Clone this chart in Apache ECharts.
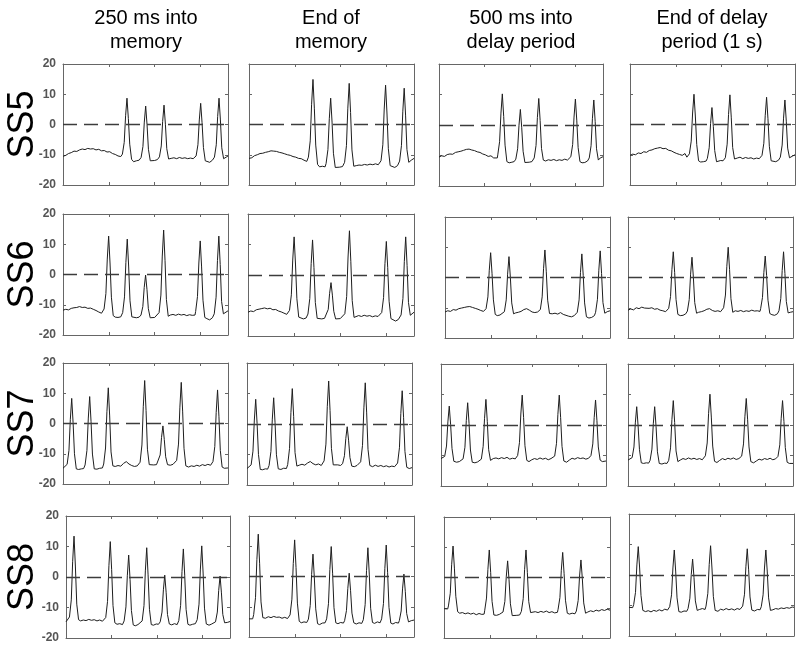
<!DOCTYPE html>
<html>
<head>
<meta charset="utf-8">
<title>SS5 - SS8 traces</title>
<script src="https://cdn.jsdelivr.net/npm/echarts@6/dist/echarts.min.js"></script>
<style>
    html, body { margin: 0; padding: 0; background: #fff; }
    #chart { width: 800px; height: 649px; }
</style>
</head>
<body>
<div id="chart"></div>
<script>
// column titles / row labels
const colTitles = ['250 ms into\nmemory', 'End of\nmemory', '500 ms into\ndelay period', 'End of delay\nperiod (1 s)']
const rowLabels = ['SS5', 'SS6', 'SS7', 'SS8']
// y axis range and tick step (labels -20 .. 20)
const yRange = [-20, 20]
const yStep = 10

// traces, [time, value]
const ss5_250 = [[0,-10.5],[3,-10.2],[6,-9.6],[9,-9.3],[12,-8.8],[15,-8.9],[18,-8.4],[21,-8.1],[24,-8.3],[27,-7.9],[30,-8.1],[33,-8.0],[36,-8.4],[39,-8.2],[42,-8.7],[45,-8.6],[48,-9.1],[51,-9.0],[54,-9.6],[57,-9.9],[60,-10.4],[63,-10.6],
    [64.8,-9.8],[66.8,-5.9],[68.3,2.9],[69.8,8.7],[71.3,2.0],[72.8,-6.5],[74.8,-11.5],[77,-12.3],[80,-12.0],[83,-11.8],
    [85.2,-10.9],[87.2,-7.3],[88.7,0.8],[90.2,6.1],[91.7,-0.1],[93.2,-8.2],[95.2,-12.0],[97,-12.4],[100,-11.9],[103,-11.6],
    [105.2,-10.7],[107.2,-7.1],[108.7,1.0],[110.2,6.4],[111.7,0.1],[113.2,-8.0],[115.2,-11.4],[118,-11.2],[121,-11.0],[124,-11.3],[127,-10.9],[130,-11.2],[133,-11.0],[136,-11.3],[139,-11.1],[142,-11.3],
    [145.2,-10.4],[147.2,-6.7],[148.7,1.5],[150.2,7.0],[151.7,0.6],[153.2,-7.6],[155.2,-12.0],[157,-12.3],[160,-12.5],[163,-11.8],
    [165.2,-10.8],[167.2,-6.7],[168.7,2.6],[170.2,8.7],[171.7,1.5],[173.2,-7.7],[175.2,-11.3],[178,-10.8],[180,-10.4]]
const ss5_endMem = [[0,-11.2],[3,-11.0],[6,-10.3],[9,-10.0],[12,-9.6],[15,-9.5],[18,-9.2],[21,-9.0],[24,-8.7],[27,-8.8],[30,-8.9],[33,-9.2],[36,-9.4],[39,-9.7],[42,-10.0],[45,-10.2],[48,-10.6],[51,-10.8],[54,-11.2],[57,-11.3],[60,-11.8],[63,-12.2],
    [64.8,-10.8],[66.8,-5.4],[68.3,6.7],[69.8,14.9],[71.3,5.4],[72.8,-6.8],[74.8,-13.2],[77,-14.0],[80,-13.8],[83,-14.0],
    [84.1,-12.9],[86.1,-8.3],[87.6,1.9],[89.1,8.7],[90.6,0.8],[92.1,-9.5],[94.1,-14.2],[96,-14.3],[99,-14.1],[102,-13.9],
    [104.3,-12.5],[106.3,-7.0],[107.8,5.4],[109.3,13.6],[110.8,4.0],[112.3,-8.4],[114.3,-13.8],[117,-13.6],[120,-13.4],[123,-13.5],[126,-13.2],[129,-13.4],[132,-13.1],[135,-13.3],[138,-13.0],[141,-13.3],[143,-13.3],
    [144,-12.0],[146,-6.7],[147.5,5.1],[149,13.0],[150.5,3.8],[152,-8.0],[154,-13.6],[156,-14.0],[159,-14.2],[162,-13.6],[163.5,-13.4],
    [164.3,-12.1],[166.3,-7.0],[167.8,4.4],[169.3,12.0],[170.8,3.1],[172.3,-8.3],[174.3,-12.5],[177,-11.8],[180,-11.2]]
const ss5_500 = [[0,-10.5],[3,-10.1],[6,-10.3],[9,-9.7],[12,-9.5],[15,-9.6],[18,-9.0],[21,-8.8],[24,-8.6],[27,-8.3],[30,-8.0],[33,-7.9],[36,-8.2],[39,-8.4],[42,-8.8],[45,-9.0],[48,-9.5],[51,-9.8],[54,-10.3],[57,-10.1],[60,-10.8],[62,-11.0],[64,-10.8],
    [64.5,-9.8],[66.5,-5.5],[68,3.9],[69.5,10.2],[71,2.8],[72.5,-6.6],[74.5,-12.0],[77,-12.4],[80,-12.2],[82.5,-12.0],
    [84.3,-11.2],[86.3,-7.8],[87.8,-0.1],[89.3,5.1],[90.8,-0.9],[92.3,-8.6],[94.3,-12.3],[96,-12.5],[99,-12.2],[102,-12.0],
    [104.5,-10.8],[106.5,-6.7],[108,2.5],[109.5,8.7],[111,1.5],[112.5,-7.7],[114.5,-11.5],[117,-11.8],[120,-11.4],[123,-11.6],[126,-11.3],[129,-11.7],[132,-11.4],[135,-11.6],[138,-11.2],[141,-11.5],[143,-11.4],
    [144.7,-10.4],[146.7,-6.4],[148.2,2.6],[149.7,8.5],[151.2,1.6],[152.7,-7.4],[154.7,-12.0],[157,-12.4],[160,-12.3],[163,-11.8],
    [164.9,-10.8],[166.9,-6.8],[168.4,2.2],[169.9,8.2],[171.4,1.2],[172.9,-7.8],[174.9,-11.5],[177,-10.8],[180,-10.4]]
const ss5_endDelay = [[0,-10.2],[3,-9.8],[6,-10.0],[9,-9.4],[12,-9.6],[15,-9.0],[18,-9.2],[21,-8.6],[24,-8.4],[27,-8.0],[30,-7.8],[33,-7.6],[36,-8.0],[39,-7.9],[42,-8.5],[45,-8.7],[48,-9.2],[51,-9.6],[54,-9.9],[57,-10.2],[60,-9.6],[62,-10.8],[64,-10.7],
    [64.8,-9.7],[66.8,-5.5],[68.3,3.8],[69.8,10.0],[71.3,2.8],[72.8,-6.6],[74.8,-12.0],[77,-12.4],[80,-12.3],[83,-12.1],
    [84.4,-11.2],[86.4,-7.7],[87.9,0.3],[89.4,5.6],[90.9,-0.6],[92.4,-8.6],[94.4,-12.3],[96,-12.4],[99,-11.9],[101.5,-12.0],
    [104,-11.0],[106,-6.5],[107.5,3.3],[109,9.8],[110.5,2.2],[112,-7.6],[114,-11.4],[117,-11.1],[120,-10.8],[123,-11.3],[126,-10.9],[129,-11.2],[132,-11.0],[135,-11.4],[138,-11.1],[141,-11.3],[143,-11.2],
    [144,-10.2],[146,-6.2],[147.5,2.9],[149,9.0],[150.5,1.9],[152,-7.2],[154,-12.0],[156,-12.4],[159,-12.3],[162,-11.8],
    [164,-10.8],[166,-6.8],[167.5,2.1],[169,8.1],[170.5,1.1],[172,-7.8],[174,-11.0],[177,-10.5],[180,-10.0]]

const ss6_250 = [[0,-11.8],[3,-11.5],[6,-11.7],[9,-11.2],[12,-11.0],[15,-10.9],[18,-10.6],[21,-10.9],[24,-10.8],[27,-11.2],[30,-11.1],[33,-11.5],[36,-11.9],[39,-12.4],[42,-12.8],
    [44.8,-11.4],[46.8,-6.3],[48.3,5.1],[49.8,12.7],[51.3,3.8],[52.8,-7.5],[54.8,-13.6],[57,-14.1],[60,-14.2],[63,-14.0],
    [65.1,-12.6],[67.1,-7.4],[68.6,4.0],[70.1,11.7],[71.6,2.8],[73.1,-8.7],[75.1,-14.0],[77,-14.4],[80,-14.3],[83,-14.1],
    [85.1,-13.4],[87.1,-10.6],[88.6,-4.3],[90.1,-0.2],[91.6,-4.9],[93.1,-11.3],[95.1,-14.3],[97,-14.6],[100,-14.2],[102,-14.0],
    [104.8,-12.6],[106.8,-6.8],[108.3,6.1],[109.8,14.7],[111.3,4.7],[112.8,-8.3],[114.8,-13.8],[117,-13.4],[120,-13.2],[123,-13.5],[126,-13.1],[129,-13.4],[132,-13.2],[135,-13.6],[138,-13.3],[141,-13.5],[144,-13.4],
    [144.7,-12.2],[146.7,-7.3],[148.2,3.8],[149.7,11.1],[151.2,2.5],[152.7,-8.5],[154.7,-14.2],[157,-14.6],[160,-15.0],[163,-14.3],
    [165,-13.0],[167,-7.5],[168.5,4.6],[170,12.7],[171.5,3.3],[173,-8.9],[175,-13.0],[177,-12.4],[180,-12.0]]
const ss6_endMem = [[0,-12.2],[3,-11.8],[6,-12.0],[9,-11.4],[12,-11.2],[15,-11.0],[18,-10.8],[21,-11.1],[24,-10.9],[27,-11.4],[30,-11.3],[33,-11.8],[36,-12.1],[39,-12.5],[42,-12.9],
    [45,-11.6],[47,-6.5],[48.5,4.9],[50,12.5],[51.5,3.6],[53,-7.8],[55,-13.8],[57,-14.3],[60,-14.4],[63,-14.1],
    [65,-12.8],[67,-7.7],[68.5,3.8],[70,11.5],[71.5,2.5],[73,-9.0],[75,-14.2],[77,-14.6],[80,-14.4],[83,-14.2],
    [85,-13.6],[87,-11.3],[88.5,-6.0],[90,-2.5],[91.5,-6.6],[93,-11.9],[95,-14.4],[97,-14.8],[100,-14.3],[102,-14.1],
    [105,-12.7],[107,-7.0],[108.5,5.9],[110,14.5],[111.5,4.5],[113,-8.4],[115,-13.9],[117,-13.5],[120,-13.3],[123,-13.6],[126,-13.2],[129,-13.5],[132,-13.3],[135,-13.7],[138,-13.4],[141,-13.6],[143,-13.5],
    [145,-12.3],[147,-7.4],[148.5,3.7],[150,11.0],[151.5,2.4],[153,-8.6],[155,-14.3],[157,-14.7],[160,-15.1],[163,-14.6],[164.5,-14.4],
    [166,-13.1],[168,-7.7],[169.5,4.4],[171,12.5],[172.5,3.1],[174,-9.0],[176,-13.2],[178,-12.6],[180,-12.2]]
const ss6_500 = [[0,-11.4],[3,-11.0],[6,-11.2],[9,-10.6],[12,-10.8],[15,-10.3],[18,-10.1],[21,-9.9],[24,-9.7],[27,-9.6],[30,-9.9],[33,-10.2],[36,-10.5],[39,-10.9],[42,-11.2],
    [44.8,-10.3],[46.8,-6.4],[48.3,2.4],[49.8,8.2],[51.3,1.4],[52.8,-7.4],[54.8,-12.2],[57,-12.6],[60,-12.4],[62,-12.2],
    [64.8,-11.3],[66.8,-7.4],[68.3,1.1],[69.8,6.9],[71.3,0.1],[72.8,-8.4],[74.8,-12.0],[77,-11.7],[80,-11.5],[83,-11.2],[86,-10.6],[89,-10.3],[92,-10.8],[95,-11.4],[98,-11.6],[101,-11.4],[103,-11.6],
    [104,-10.6],[106,-6.4],[107.5,2.9],[109,9.1],[110.5,1.9],[112,-7.5],[114,-11.9],[117,-12.0],[120,-11.8],[123,-12.1],[126,-11.6],[129,-12.2],[132,-12.5],[135,-12.8],[138,-13.0],[141,-12.6],[143,-12.5],
    [144.3,-11.5],[146.3,-7.4],[147.8,1.7],[149.3,7.8],[150.8,0.7],[152.3,-8.4],[154.3,-13.0],[157,-13.4],[160,-13.2],[163,-12.6],
    [164.3,-11.5],[166.3,-7.2],[167.8,2.4],[169.3,8.8],[170.8,1.3],[172.3,-8.3],[174.3,-11.8],[177,-11.3],[180,-11.0]]
const ss6_endDelay = [[0,-10.8],[3,-10.4],[6,-10.7],[9,-10.0],[12,-10.3],[15,-9.8],[18,-10.1],[20,-9.7],[23,-10.2],[26,-10.0],[29,-10.5],[32,-10.3],[35,-10.8],[38,-11.0],[41,-11.3],[43,-11.2],
    [44.4,-10.2],[46.4,-6.3],[47.9,2.6],[49.4,8.5],[50.9,1.6],[52.4,-7.3],[54.4,-12.2],[57,-12.6],[60,-12.5],[63,-12.0],
    [64.8,-11.1],[66.8,-7.3],[68.3,1.1],[69.8,6.7],[71.3,0.2],[72.8,-8.3],[74.8,-11.8],[77,-11.5],[80,-11.3],[83,-11.0],[86,-10.5],[89,-10.3],[92,-10.9],[95,-11.2],[98,-11.0],[101,-11.3],[103,-11.1],
    [104.3,-10.0],[106.3,-5.8],[107.8,3.7],[109.3,10.0],[110.8,2.6],[112.3,-7.0],[114.3,-11.5],[117,-11.0],[120,-11.2],[123,-10.9],[126,-11.3],[129,-11.0],[132,-11.2],[135,-10.8],[138,-11.1],[141,-11.0],[144,-11.2],
    [144.7,-10.3],[146.7,-6.6],[148.2,1.6],[149.7,7.1],[151.2,0.7],[152.7,-7.5],[154.7,-11.9],[157,-12.3],[160,-12.5],[163,-12.0],
    [164.7,-11.0],[166.7,-6.9],[168.2,2.3],[169.7,8.5],[171.2,1.3],[172.7,-7.9],[174.7,-11.7],[177,-11.5],[180,-11.3]]

const ss7_250 = [[0,-14.8],[2,-14.9],
    [4.5,-13.5],[6.5,-8.9],[8,1.4],[9.5,8.3],[11,0.3],[12.5,-10.0],[14.5,-15.0],[17,-15.2],[20,-15.0],[22.5,-14.9],
    [24.1,-13.7],[26.1,-8.9],[27.6,1.8],[29.1,8.9],[30.6,0.6],[32.1,-10.1],[34.1,-15.0],[37,-15.1],[40,-14.8],[43,-14.7],
    [44.4,-13.4],[46.4,-8.1],[47.9,3.9],[49.4,11.8],[50.9,2.5],[52.4,-9.4],[54.4,-14.0],[57,-14.2],[60,-13.9],[63,-14.1],[66,-13.2],[69,-12.6],[72,-13.4],[75,-13.9],[78,-14.2],[81,-14.0],[83,-14.2],
    [84.1,-12.8],[86.1,-7.1],[87.6,5.7],[89.1,14.2],[90.6,4.3],[92.1,-8.5],[94.1,-13.6],[96,-14.0],[99,-13.7],[102,-13.6],
    [104,-13.0],[106,-10.4],[107.5,-4.6],[109,-0.8],[110.5,-5.3],[112,-11.0],[114,-13.6],[117,-13.8],[120,-13.5],[122,-13.6],
    [124,-12.2],[126,-6.8],[127.5,5.4],[129,13.6],[130.5,4.1],[132,-8.2],[134,-14.0],[137,-14.4],[140,-14.0],[143,-14.2],[146,-13.8],[149,-14.1],[152,-13.6],[155,-13.9],[158,-13.5],[161,-13.8],
    [163.6,-12.6],[165.6,-7.6],[167.1,3.6],[168.6,11.1],[170.1,2.4],[171.6,-8.9],[173.6,-14.4],[176,-14.8],[178,-14.9],[180,-14.7]]
const ss7_endMem = [[0,-14.6],[2,-14.5],
    [4.5,-13.4],[6.5,-8.9],[8,1.3],[9.5,8.1],[11,0.2],[12.5,-10.0],[14.5,-14.9],[17,-15.0],[20,-14.7],[22.5,-14.8],
    [24.1,-13.6],[26.1,-9.0],[27.6,1.6],[29.1,8.6],[30.6,0.4],[32.1,-10.1],[34.1,-14.7],[37,-14.9],[40,-14.5],[43,-14.6],
    [44.4,-13.3],[46.4,-8.0],[47.9,3.7],[49.4,11.6],[50.9,2.4],[52.4,-9.4],[54.4,-13.8],[57,-13.5],[60,-13.2],[63,-13.5],[66,-12.8],[69,-12.3],[72,-13.0],[75,-13.4],[78,-13.1],[81,-13.6],[83,-13.5],
    [84.1,-12.1],[86.1,-6.6],[87.6,5.8],[89.1,14.1],[90.6,4.4],[92.1,-8.0],[94.1,-13.4],[96,-13.8],[99,-13.4],[102,-13.6],
    [104.3,-13.0],[106.3,-10.4],[107.8,-4.7],[109.3,-0.9],[110.8,-5.3],[112.3,-11.0],[114.3,-13.8],[117,-14.0],[120,-13.6],[122,-13.8],
    [124,-12.4],[126,-7.0],[127.5,5.3],[129,13.5],[130.5,3.9],[132,-8.3],[134,-13.6],[137,-14.0],[140,-13.5],[143,-13.9],[146,-13.6],[149,-14.0],[152,-13.7],[155,-14.1],[158,-13.8],[161,-14.0],
    [164.3,-12.8],[166.3,-7.8],[167.8,3.4],[169.3,10.9],[170.8,2.2],[172.3,-9.0],[174.3,-14.2],[177,-14.6],[180,-14.3]]
const ss7_500 = [[0,-11.0],[2,-11.2],
    [4,-10.3],[6,-6.9],[7.5,1.0],[9,6.2],[10.5,0.1],[12,-7.7],[14,-11.9],[17,-12.2],[20,-12.0],[22,-12.1],
    [24.1,-11.1],[26.1,-7.3],[27.6,1.5],[29.1,7.3],[30.6,0.5],[32.1,-8.2],[34.1,-12.2],[37,-12.4],[40,-12.1],[42,-12.2],
    [44,-11.2],[46,-7.0],[47.5,2.2],[49,8.4],[50.5,1.2],[52,-8.1],[54,-11.6],[57,-11.0],[60,-10.8],[63,-11.1],[66,-10.7],[69,-11.0],[72,-10.6],[75,-11.2],[78,-10.9],[81,-11.1],
    [83.6,-10.0],[85.6,-5.8],[87.1,3.6],[88.6,9.8],[90.1,2.5],[91.6,-6.8],[93.6,-11.6],[96,-12.0],[99,-11.4],[102,-11.0],[105,-11.3],[108,-10.8],[111,-11.2],[114,-10.9],[117,-11.4],[120,-11.0],[122,-11.2],
    [124,-10.2],[126,-6.0],[127.5,3.5],[129,9.8],[130.5,2.4],[132,-7.0],[134,-11.8],[137,-12.2],[140,-11.5],[143,-10.9],[146,-11.2],[149,-10.7],[152,-11.0],[155,-10.8],[158,-11.2],[161,-10.9],
    [163.6,-10.0],[165.6,-6.2],[167.1,2.4],[168.6,8.2],[170.1,1.4],[171.6,-7.2],[173.6,-11.5],[176,-12.0],[178,-12.1],[180,-11.8]]
const ss7_endDelay = [[0,-11.5],[2,-11.6],
    [4.5,-10.7],[6.5,-7.2],[8,0.7],[9.5,6.0],[11,-0.2],[12.5,-8.1],[14.5,-12.4],[17,-12.6],[20,-12.4],[22.5,-12.5],
    [24.1,-11.6],[26.1,-7.9],[27.6,0.4],[29.1,6.0],[30.6,-0.5],[32.1,-8.8],[34.1,-12.6],[37,-12.8],[40,-12.5],[42.5,-12.6],
    [44.4,-11.6],[46.4,-7.5],[47.9,1.8],[49.4,8.0],[50.9,0.8],[52.4,-8.5],[54.4,-12.0],[57,-11.5],[60,-11.0],[63,-11.3],[66,-10.8],[69,-11.2],[72,-10.9],[75,-11.3],[78,-11.0],[81,-11.4],[83,-11.2],
    [84.4,-10.1],[86.4,-5.9],[87.9,3.7],[89.4,10.1],[90.9,2.6],[92.4,-6.9],[94.4,-11.9],[97,-12.3],[100,-11.6],[103,-11.0],[106,-11.4],[109,-10.9],[112,-11.2],[115,-10.8],[118,-11.3],[121,-11.0],[123,-11.2],
    [124,-10.2],[126,-6.2],[127.5,2.7],[129,8.7],[130.5,1.7],[132,-7.2],[134,-12.0],[137,-12.4],[140,-11.8],[143,-11.2],[146,-11.5],[149,-11.0],[152,-11.3],[155,-10.9],[158,-11.4],[161,-11.1],
    [163.6,-10.3],[165.6,-6.5],[167.1,2.2],[168.6,8.0],[170.1,1.2],[171.6,-7.4],[173.6,-12.2],[176,-12.6],[178,-12.8],[180,-12.6]]

const ss8_250 = [[0,-14.7],[2,-14.5],
    [3.8,-13.1],[5.8,-7.5],[7.3,5.0],[8.8,13.4],[10.3,3.6],[11.8,-8.9],[13.8,-14.0],[16,-14.4],[19,-14.1],[22,-14.3],[25,-13.9],[28,-14.2],[31,-14.0],[34,-14.4],[37,-14.1],[40,-14.5],[42,-14.6],
    [43.6,-13.3],[45.6,-8.0],[47.1,3.7],[48.6,11.6],[50.1,2.4],[51.6,-9.4],[53.6,-15.0],[56,-15.5],[59,-15.3],[62,-15.6],
    [63.8,-14.4],[65.8,-9.8],[67.3,0.4],[68.8,7.2],[70.3,-0.8],[71.8,-11.0],[73.8,-15.7],[76,-16.0],[79,-15.6],[81,-15.7],
    [83.6,-14.4],[85.6,-9.4],[87.1,2.0],[88.6,9.6],[90.1,0.7],[91.6,-10.6],[93.6,-15.6],[96,-15.8],[99,-15.4],[101.5,-15.5],
    [103.4,-14.7],[105.4,-11.5],[106.9,-4.2],[108.4,0.6],[109.9,-5.0],[111.4,-12.3],[113.4,-15.4],[116,-15.7],[119,-15.3],[122,-15.6],
    [123.8,-14.3],[125.8,-9.3],[127.3,1.8],[128.8,9.2],[130.3,0.6],[131.8,-10.6],[133.8,-15.5],[136,-15.8],[139,-15.5],[142,-15.3],
    [144,-14.0],[146,-8.9],[147.5,2.6],[149,10.2],[150.5,1.3],[152,-10.2],[154,-15.4],[157,-15.8],[160,-15.4],[162,-15.5],
    [164.1,-14.7],[166.1,-11.5],[167.6,-4.4],[169.1,0.3],[170.6,-5.2],[172.1,-12.3],[174.1,-15.0],[177,-14.9],[180,-14.6]]
const ss8_endMem = [[0,-14.0],[2,-13.8],[4,-14.0],
    [5.1,-12.6],[7.1,-7.0],[8.6,5.6],[10.1,14.0],[11.6,4.2],[13.1,-8.4],[15.1,-13.6],[18,-13.8],[21,-13.3],[24,-13.6],[27,-13.2],[30,-13.5],[33,-13.4],[36,-13.8],[39,-13.5],[42,-13.9],[44,-14.0],
    [44.8,-12.7],[46.8,-7.5],[48.3,4.3],[49.8,12.1],[51.3,3.0],[52.8,-8.8],[54.8,-14.8],[57,-15.3],[60,-15.0],[63,-15.2],
    [64.8,-14.1],[66.8,-9.6],[68.3,0.6],[69.8,7.4],[71.3,-0.5],[72.8,-10.7],[74.8,-15.6],[77,-15.9],[80,-15.4],[83,-15.3],
    [84.7,-14.0],[86.7,-9.0],[88.2,2.3],[89.7,9.9],[91.2,1.1],[92.7,-10.3],[94.7,-15.3],[97,-15.6],[100,-15.2],[103,-15.4],
    [104.3,-14.6],[106.3,-11.3],[107.8,-3.9],[109.3,1.1],[110.8,-4.7],[112.3,-12.1],[114.3,-15.3],[117,-15.7],[120,-15.3],[123,-15.5],
    [124.7,-14.3],[126.7,-9.3],[128.2,2.0],[129.7,9.5],[131.2,0.8],[132.7,-10.5],[134.7,-15.2],[137,-15.5],[140,-15.0],[143,-15.3],
    [144.7,-14.0],[146.7,-8.9],[148.2,2.7],[149.7,10.4],[151.2,1.4],[152.7,-10.2],[154.7,-15.4],[157,-15.7],[160,-15.2],[163,-15.4],
    [164,-14.6],[166,-11.4],[167.5,-4.1],[169,0.8],[170.5,-4.9],[172,-12.2],[174,-15.0],[177,-14.6],[180,-14.4]]
const ss8_500 = [[0,-10.3],[2,-10.1],[4,-10.4],
    [4.8,-9.4],[6.8,-5.2],[8.3,4.2],[9.8,10.4],[11.3,3.1],[12.8,-6.2],[14.8,-11.3],[17,-11.8],[20,-11.6],[23,-12.0],[26,-11.7],[29,-12.1],[32,-11.8],[35,-12.3],[38,-11.9],[41,-12.2],[43.5,-12.1],
    [44.1,-11.0],[46.1,-6.8],[47.6,2.7],[49.1,9.1],[50.6,1.7],[52.1,-7.9],[54.1,-12.4],[57,-12.5],[60,-12.2],[62,-12.3],
    [64,-11.4],[66,-7.9],[67.5,0.2],[69,5.5],[70.5,-0.7],[72,-8.7],[74,-12.6],[76,-12.9],[79,-12.5],[82,-12.4],[83.5,-12.3],
    [83.9,-11.2],[85.9,-7.0],[87.4,2.7],[88.9,9.1],[90.4,1.6],[91.9,-8.0],[93.9,-11.6],[96,-11.8],[99,-11.3],[102,-11.6],[105,-11.2],[108,-11.5],[111,-11.1],[114,-11.6],[117,-11.3],[120,-11.7],[123,-11.5],
    [123.7,-10.5],[125.7,-6.6],[127.2,2.4],[128.7,8.3],[130.2,1.4],[131.7,-7.5],[133.7,-11.8],[136,-12.1],[139,-11.8],[142,-12.0],[143.3,-12.0],
    [143.5,-11.1],[145.5,-7.6],[147,0.5],[148.5,5.8],[150,-0.4],[151.5,-8.4],[153.5,-11.8],[156,-11.4],[159,-11.0],[162,-11.3],[165,-10.8],[168,-11.1],[171,-10.6],[174,-10.9],[177,-10.5],[180,-10.8]]
const ss8_endDelay = [[0,-10.6],[2,-10.4],[4,-10.7],
    [5.1,-9.7],[7.1,-5.7],[8.6,3.3],[10.1,9.3],[11.6,2.3],[13.1,-6.7],[15.1,-11.6],[18,-12.0],[21,-11.7],[24,-12.1],[27,-11.6],[30,-11.9],[33,-11.4],[36,-11.8],[39,-11.2],[42,-11.5],[44,-11.4],
    [44.4,-10.4],[46.4,-6.5],[47.9,2.3],[49.4,8.2],[50.9,1.3],[52.4,-7.5],[54.4,-12.0],[57,-12.2],[60,-11.8],[63,-11.9],
    [64.4,-11.0],[66.4,-7.6],[67.9,0.1],[69.4,5.2],[70.9,-0.8],[72.4,-8.5],[74.4,-11.6],[77,-11.3],[80,-11.0],[83,-11.3],
    [84,-10.2],[86,-6.0],[87.5,3.4],[89,9.6],[90.5,2.3],[92,-7.0],[94,-11.6],[97,-11.9],[100,-11.2],[103,-11.5],[106,-11.0],[109,-11.4],[112,-11.1],[115,-11.5],[118,-11.0],[121,-11.3],[123,-11.2],
    [124,-10.2],[126,-6.3],[127.5,2.7],[129,8.6],[130.5,1.7],[132,-7.2],[134,-11.5],[137,-11.8],[140,-11.3],[143,-11.4],
    [144.3,-10.4],[146.3,-6.5],[147.8,2.3],[149.3,8.2],[150.8,1.3],[152.3,-7.5],[154.3,-11.6],[157,-11.4],[160,-11.0],[163,-11.2],[166,-10.8],[169,-11.0],[172,-10.7],[175,-10.9],[178,-10.5],[180,-10.6]]

const traces = [
    [ss5_250, ss5_endMem, ss5_500, ss5_endDelay],
    [ss6_250, ss6_endMem, ss6_500, ss6_endDelay],
    [ss7_250, ss7_endMem, ss7_500, ss7_endDelay],
    [ss8_250, ss8_endMem, ss8_500, ss8_endDelay]
]

// panel boxes in px [left, top, width, height]
const boxes = [
    [[63, 64, 165, 121], [249, 64, 165, 121], [439, 64, 164, 122], [630, 64, 165, 121]],
    [[63, 214, 165, 121], [248, 214, 166, 122], [445, 217, 165, 121], [628, 217, 165, 121]],
    [[63, 363, 165, 121], [247, 363, 165, 122], [441, 364, 165, 122], [628, 364, 165, 122]],
    [[66, 516, 164, 122], [249, 516, 165, 121], [444, 517, 166, 121], [629, 514, 165, 122]]
]
const colCenters = [146, 331, 521, 712]

const font = 'Liberation Sans, Arial, sans-serif'
const boxColor = '#666'

const chart = echarts.init(document.getElementById('chart'), null, {renderer: 'canvas'})

const grid = [], xAxis = [], yAxis = [], series = []
boxes.forEach((row, r) => {
    row.forEach((b, c) => {
        const g = grid.length
        grid.push({left: b[0], top: b[1], width: b[2], height: b[3], show: false})
        const tick = {show: true, inside: true, length: 3, lineStyle: {color: boxColor}}
        const line = {show: true, onZero: false, lineStyle: {color: boxColor, width: 1}}
        // bottom + top (mirror)
        ;['bottom', 'top'].forEach(pos => {
            xAxis.push({
                gridIndex: g, type: 'value', position: pos, min: 0, max: 180, interval: 50,
                axisLine: line, axisTick: tick, axisLabel: {show: false}, splitLine: {show: false}
            })
        })
        // left + right (mirror)
        ;['left', 'right'].forEach(pos => {
            yAxis.push({
                gridIndex: g, type: 'value', position: pos, min: yRange[0], max: yRange[1], interval: yStep,
                axisLine: line, axisTick: tick, splitLine: {show: false},
                axisLabel: {
                    show: c === 0 && pos === 'left', color: '#555', fontSize: 12, fontWeight: 'bold',
                    fontFamily: font, margin: 7
                }
            })
        })
        series.push({
            type: 'line',
            xAxisIndex: g * 2,
            yAxisIndex: g * 2,
            data: traces[r][c],
            showSymbol: false,
            silent: true,
            lineStyle: {color: '#1e1e1e', width: 1},
            markLine: {
                silent: true,
                symbol: 'none',
                label: {show: false},
                lineStyle: {color: '#3c3c3c', type: [14, 7], width: 1.4},
                data: [{yAxis: 0}]
            }
        })
    })
})

const graphic = []
colTitles.forEach((t, i) => {
    graphic.push({
        type: 'text', x: colCenters[i], y: 6,
        style: {text: t, fontSize: 20, fontFamily: font, fill: '#000', align: 'center', verticalAlign: 'top', lineHeight: 24}
    })
})
rowLabels.forEach((t, i) => {
    const b = boxes[i][0]
    graphic.push({
        type: 'text', x: 23, y: b[1] + b[3] / 2, rotation: Math.PI / 2,
        style: {text: t, fontSize: 36, fontFamily: font, fill: '#000', align: 'center', verticalAlign: 'middle'}
    })
})

chart.setOption({
    animation: false,
    backgroundColor: '#fff',
    grid, xAxis, yAxis, series, graphic
})
</script>
</body>
</html>
